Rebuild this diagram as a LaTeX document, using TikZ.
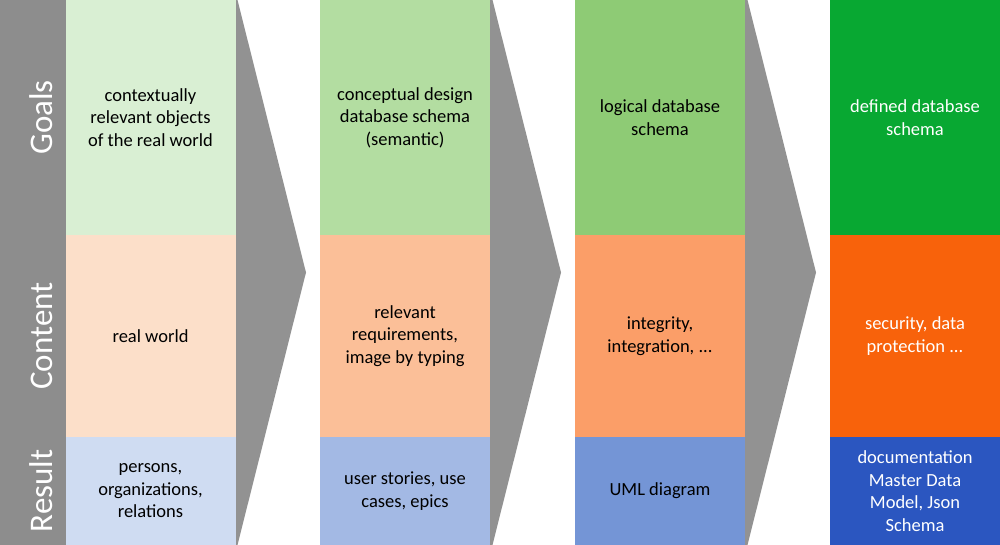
\documentclass[tikz,border=0pt]{standalone}
\usepackage{fontspec}
\setmainfont{Carlito}
\definecolor{sidegray}{HTML}{8D8D8D}
\definecolor{arrowgray}{HTML}{929292}
\definecolor{gA}{HTML}{D9EFD3}
\definecolor{gB}{HTML}{B3DDA1}
\definecolor{gC}{HTML}{8ECB75}
\definecolor{gD}{HTML}{08A832}
\definecolor{oA}{HTML}{FCDFC9}
\definecolor{oB}{HTML}{FBBF98}
\definecolor{oC}{HTML}{FB9E68}
\definecolor{oD}{HTML}{F8620B}
\definecolor{bA}{HTML}{CFDCF2}
\definecolor{bB}{HTML}{A3B9E4}
\definecolor{bC}{HTML}{7495D6}
\definecolor{bD}{HTML}{2B56C0}
\begin{document}
\begin{tikzpicture}[x=1pt,y=-1pt,
  cell/.style={rectangle, inner sep=0pt, outer sep=0pt, anchor=north west,
    minimum width=170pt, align=center, text=black,
    font=\fontsize{18.5}{22.5}\selectfont},
  rowG/.style={minimum height=235pt},
  rowC/.style={minimum height=202pt},
  rowR/.style={minimum height=108pt},
  side/.style={rotate=90, anchor=base, text=white, inner sep=0pt,
    font=\fontsize{33}{40}\selectfont},
  chevron/.style={fill=arrowgray}]
\useasboundingbox (0,0) rectangle (1000,545);
% left bar
\fill[sidegray] (0,0) rectangle (65.5,545);
\node[side] (lgoals) at (52,117.5) {Goals};
\node[side] (lcontent) at (52,336) {Content};
\node[side] (lresult) at (52,491) {Result};
% chevrons
\fill[chevron] (233,0) -- (237.5,0) -- (306,272.5) -- (237.5,545) -- (233,545) -- cycle;
\fill[chevron] (488,0) -- (492.5,0) -- (561,272.5) -- (492.5,545) -- (488,545) -- cycle;
\fill[chevron] (743,0) -- (747.5,0) -- (816,272.5) -- (747.5,545) -- (743,545) -- cycle;
% column 1
\node[cell,rowG,fill=gA,minimum width=170pt] (g1) at (65.5,0) {contextually\\relevant objects\\of the real world};
\node[cell,rowC,fill=oA,minimum width=170pt] (c1) at (65.5,235) {real world};
\node[cell,rowR,fill=bA,minimum width=170pt] (r1) at (65.5,437) {persons,\\organizations,\\relations};
% column 2
\node[cell,rowG,fill=gB] (g2) at (320,0) {conceptual design\\database schema\\(semantic)};
\node[cell,rowC,fill=oB] (c2) at (320,235) {relevant\\requirements,\\image by typing};
\node[cell,rowR,fill=bB] (r2) at (320,437) {user stories, use\\cases, epics};
% column 3
\node[cell,rowG,fill=gC] (g3) at (575,0) {logical database\\schema};
\node[cell,rowC,fill=oC] (c3) at (575,235) {integrity,\\integration, ...};
\node[cell,rowR,fill=bC] (r3) at (575,437) {UML diagram};
% column 4
\node[cell,rowG,fill=gD,text=white] (g4) at (830,0) {defined database\\schema};
\node[cell,rowC,fill=oD,text=white] (c4) at (830,235) {security, data\\protection ...};
\node[cell,rowR,fill=bD,text=white] (r4) at (830,437) {documentation\\Master Data\\Model, Json\\Schema};
\end{tikzpicture}
\end{document}
